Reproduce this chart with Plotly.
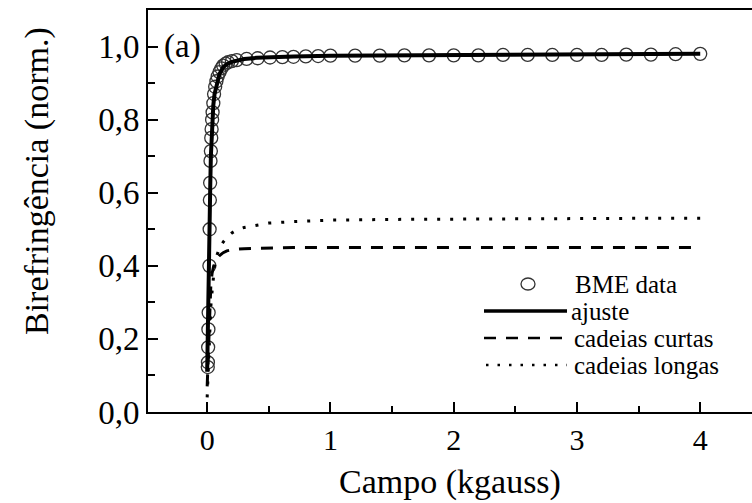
import plotly.graph_objects as go

# BME data
bme_x = [0.005, 0.006, 0.008, 0.010, 0.012, 0.018, 0.020, 0.022, 0.024, 0.027, 0.030, 0.033,
         0.036, 0.040, 0.044, 0.050, 0.056, 0.065, 0.075, 0.085, 0.100, 0.115, 0.130, 0.150,
         0.170, 0.200, 0.240, 0.320, 0.410, 0.510, 0.610, 0.700, 0.800, 0.900, 1.000,
         1.2, 1.4, 1.6, 1.8, 2.0, 2.2, 2.4, 2.6, 2.8, 3.0, 3.2, 3.4, 3.6, 3.8, 4.0]
bme_y = [0.123, 0.136, 0.177, 0.226, 0.272, 0.400, 0.500, 0.580, 0.627, 0.687, 0.714, 0.750,
         0.774, 0.800, 0.820, 0.845, 0.870, 0.890, 0.905, 0.918, 0.930, 0.940, 0.948, 0.953,
         0.957, 0.960, 0.963, 0.966, 0.968, 0.970, 0.971, 0.972, 0.973, 0.974, 0.975,
         0.975, 0.975, 0.976, 0.976, 0.976, 0.976, 0.977, 0.977, 0.977, 0.977, 0.977, 0.978, 0.978, 0.979, 0.980]

# fitted curves
fit_x = [0.0, 0.003, 0.006, 0.01, 0.015, 0.02, 0.025, 0.03, 0.04, 0.05, 0.06, 0.08, 0.1, 0.13,
         0.16, 0.2, 0.25, 0.3, 0.4, 0.5, 0.7, 1.0, 1.5, 2.0, 2.5, 3.0, 3.5, 4.0]
ajuste_y = [0.11, 0.20, 0.28, 0.35, 0.45, 0.52, 0.62, 0.70, 0.79, 0.84, 0.87, 0.90, 0.925, 0.943,
            0.952, 0.958, 0.963, 0.966, 0.969, 0.971, 0.973, 0.975, 0.976, 0.977, 0.977, 0.978, 0.979, 0.980]
curtas_y = [0.07, 0.10, 0.14, 0.19, 0.25, 0.29, 0.32, 0.35, 0.38, 0.40, 0.41, 0.42, 0.428, 0.436,
            0.441, 0.444, 0.446, 0.447, 0.448, 0.449, 0.45, 0.45, 0.45, 0.449, 0.449, 0.45, 0.45, 0.45]
longas_y = [0.04, 0.07, 0.10, 0.14, 0.18, 0.22, 0.26, 0.29, 0.33, 0.37, 0.40, 0.43, 0.448, 0.465,
            0.478, 0.49, 0.50, 0.505, 0.512, 0.517, 0.521, 0.525, 0.527, 0.528, 0.529, 0.529, 0.53, 0.53]

y_ticks = [0.0, 0.2, 0.4, 0.6, 0.8, 1.0]
y_ticklabels = ["0,0", "0,2", "0,4", "0,6", "0,8", "1,0"]
x_ticks = [0, 1, 2, 3, 4]
legend_labels = ["BME data", "ajuste", "cadeias curtas", "cadeias longas"]

FONT = "Liberation Serif"

# plot area in pixels (for legend placement)
L, R, T, B = 148, 752, 10, 412
def px(x):
    return (x - L) / (R - L)
def py(y):
    return (B - y) / (B - T)

fig = go.Figure()
fig.add_trace(go.Scatter(x=bme_x, y=bme_y, mode="markers", name=legend_labels[0],
                         marker=dict(symbol="circle-open", size=13, color="#333333",
                                     line=dict(width=1.3, color="#333333"))))
fig.add_trace(go.Scatter(x=fit_x, y=ajuste_y, mode="lines", name=legend_labels[1],
                         line=dict(color="black", width=4)))
fig.add_trace(go.Scatter(x=fit_x, y=curtas_y, mode="lines", name=legend_labels[2],
                         line=dict(color="black", width=3, dash="12px,10px")))
fig.add_trace(go.Scatter(x=fit_x, y=longas_y, mode="lines", name=legend_labels[3],
                         line=dict(color="black", width=3, dash="3px,10px")))

# custom legend (long sample lines like the original)
rows = [284, 311, 338, 365]
shapes = [
    dict(type="circle", xref="paper", yref="paper", x0=px(521), x1=px(535),
         y0=py(290), y1=py(278), line=dict(color="#333333", width=1.3)),
    dict(type="line", xref="paper", yref="paper", x0=px(484), x1=px(567),
         y0=py(rows[1]), y1=py(rows[1]), line=dict(color="black", width=3.5)),
    dict(type="line", xref="paper", yref="paper", x0=px(484), x1=px(567),
         y0=py(rows[2]), y1=py(rows[2]), line=dict(color="black", width=2.5, dash="12px,10px")),
    dict(type="line", xref="paper", yref="paper", x0=px(486), x1=px(567),
         y0=py(rows[3]), y1=py(rows[3]), line=dict(color="black", width=2.5, dash="2.5px,9px")),
]
text_x = [573, 569, 572, 572]
legend_ann = [dict(text=t, x=px(xx), y=py(yy), xref="paper", yref="paper", showarrow=False,
                   xanchor="left", yanchor="middle", font=dict(family=FONT, size=25, color="black"))
              for t, xx, yy in zip(legend_labels, text_x, rows)]

fig.update_layout(
    width=752, height=503,
    margin=dict(l=L, r=0, t=T, b=503 - B),
    paper_bgcolor="white", plot_bgcolor="white",
    font=dict(family=FONT, color="black"),
    showlegend=False,
    xaxis=dict(range=[-0.48, 4.42], tickvals=x_ticks, ticks="inside", ticklen=10,
               tickwidth=1.5, tickcolor="black", showline=True, linecolor="black",
               linewidth=2, mirror=True, showgrid=False, zeroline=False,
               tickfont=dict(family=FONT, size=30, color="black"),
               minor=dict(dtick=0.5, ticks="inside", ticklen=6, tickwidth=1.5, tickcolor="black", showgrid=False)),
    yaxis=dict(range=[0, 1.1], tickvals=y_ticks, ticktext=y_ticklabels, ticks="inside",
               ticklen=10, tickwidth=1.5, tickcolor="black", showline=True, linecolor="black",
               linewidth=2, showgrid=False, zeroline=False,
               tickfont=dict(family=FONT, size=33, color="black"),
               minor=dict(dtick=0.1, ticks="inside", ticklen=7, tickwidth=1.5, tickcolor="black", showgrid=False)),
    shapes=shapes,
    annotations=[
        dict(text="Campo (kgauss)", x=0.5, xref="paper", y=py(482),
             yref="paper", showarrow=False, font=dict(family=FONT, size=34, color="black"),
             xanchor="center", yanchor="middle"),
        dict(text="Birefringência (norm.)", x=px(37), xref="paper", y=py(181), yref="paper",
             textangle=-90, showarrow=False, font=dict(family=FONT, size=34, color="black"),
             xanchor="center", yanchor="middle"),
        dict(text="(a)", x=px(162), xref="paper", y=py(47), yref="paper", showarrow=False,
             font=dict(family=FONT, size=33, color="black"), xanchor="left", yanchor="middle"),
    ] + legend_ann,
)

fig.write_html("out.html")
